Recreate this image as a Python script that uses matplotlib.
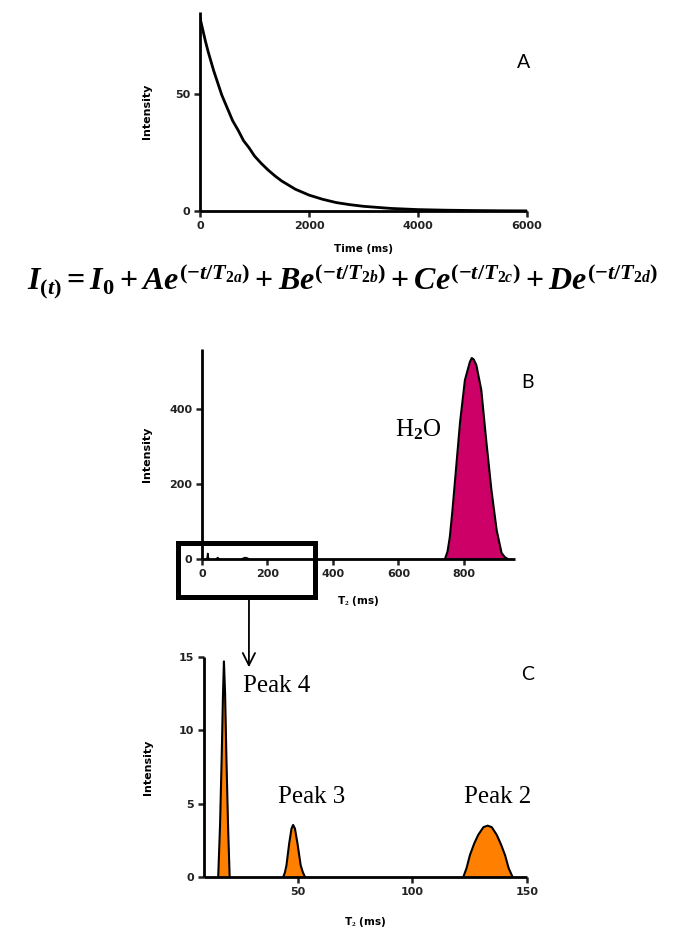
import matplotlib
matplotlib.use("Agg")
import matplotlib.pyplot as plt
from matplotlib.patches import Rectangle, ConnectionPatch
from matplotlib.font_manager import FontProperties

# decay curve
decay_t = [0, 50, 100, 150, 200, 250, 300, 350, 400, 500, 600, 700, 800, 900,
           1000, 1125, 1250, 1375, 1500, 1750, 2000, 2250, 2500, 2750, 3000,
           3500, 4000, 4500, 5000, 5500, 6000]
decay_i = [82.5, 77.5, 72.5, 68.0, 64.0, 60.0, 56.5, 53.0, 49.5, 44.0, 38.5,
           34.5, 30.0, 27.0, 23.5, 20.3, 17.5, 15.0, 12.8, 9.3, 6.8, 5.0, 3.6,
           2.7, 2.0, 1.1, 0.6, 0.35, 0.2, 0.1, 0.05]

# T2 distribution: water peak
h2o_t = [742, 750, 757, 765, 773, 788, 803, 818, 824, 830, 838, 853, 868, 884,
         900, 915, 925, 934]
h2o_i = [0, 20, 59, 130, 211, 363, 477, 525, 536, 532, 517, 451, 317, 184,
         77, 16, 5, 0]

# small peaks (ms, intensity)
p4_t = [15.2, 16.0, 16.7, 17.3, 17.7, 18.2, 18.8, 19.5, 20.2]
p4_i = [0, 3.5, 8.0, 12.5, 14.7, 12.5, 8.0, 3.5, 0]
p3_t = [43.6, 44.3, 45.0, 46.2, 47.2, 47.9, 48.7, 49.8, 51.2, 52.2, 53.1]
p3_i = [0, 0.3, 0.8, 2.3, 3.3, 3.55, 3.3, 2.3, 0.8, 0.3, 0]
p2_t = [122.2, 123.6, 125.1, 127.0, 128.7, 131.0, 132.8, 134.6, 136.8, 138.7,
        140.4, 142.0, 143.7]
p2_i = [0, 0.6, 1.5, 2.3, 2.87, 3.4, 3.5, 3.4, 2.87, 2.2, 1.5, 0.6, 0]

peak_labels = ["Peak 4", "Peak 3", "Peak 2"]

MAGENTA = "#CC0066"
ORANGE = "#FF8000"
TICKFONT = FontProperties(family="DejaVu Sans", weight="bold", size=8)

plt.rcParams["mathtext.fontset"] = "custom"
plt.rcParams["mathtext.rm"] = "Liberation Serif:bold"
plt.rcParams["mathtext.it"] = "Liberation Serif:italic:bold"
plt.rcParams["mathtext.bf"] = "Liberation Serif:bold"

W, H = 685, 932
fig = plt.figure(figsize=(W / 100, H / 100), dpi=100)


def px_axes(left, top, right, bottom):
    return fig.add_axes([left / W, 1 - bottom / H, (right - left) / W, (bottom - top) / H])


def prism_style(ax):
    for s in ("top", "right"):
        ax.spines[s].set_visible(False)
    for s in ("left", "bottom"):
        ax.spines[s].set_linewidth(2.0)
        ax.spines[s].set_capstyle("butt")
    ax.tick_params(direction="out", length=4, width=1.8, pad=3, colors="#222222")
    for lab in ax.get_xticklabels() + ax.get_yticklabels():
        lab.set_fontproperties(TICKFONT)
    ax.patch.set_visible(False)


def axis_labels(ax, xlabel, xl_y, yl_x):
    ax.text(0.5, xl_y, xlabel, transform=ax.transAxes, ha="center", va="center",
            fontfamily="DejaVu Sans", fontweight="bold", fontsize=7.5)
    ax.text(yl_x, 0.5, "Intensity", transform=ax.transAxes, ha="center", va="center",
            rotation=90, fontfamily="DejaVu Sans", fontweight="bold", fontsize=8)


# ---- A: relaxation decay
ax_a = px_axes(200, 12, 527, 211)
ax_a.plot(decay_t, decay_i, color="black", lw=2.0, solid_joinstyle="round")
ax_a.set_xlim(0, 6000)
ax_a.set_ylim(0, 85)
ax_a.set_xticks([0, 2000, 4000, 6000])
ax_a.set_yticks([0, 50])
prism_style(ax_a)
axis_labels(ax_a, "Time (ms)", -0.19, -0.162)
ax_a.text(5930, 63.5, "A", fontfamily="Lato", fontsize=14, ha="center", va="center")

# multi-exponential model
fig.text(343 / W, 1 - 281 / H,
         r"$I_{(t)} = I_0 + Ae^{(-t/T_{2a})} + Be^{(-t/T_{2b})} + Ce^{(-t/T_{2c})} + De^{(-t/T_{2d})}$",
         ha="center", va="center", fontsize=23)

# ---- B: full T2 distribution
ax_b = px_axes(202, 349, 515, 559)
for t, i in ((p4_t, p4_i), (p3_t, p3_i), (p2_t, p2_i)):
    ax_b.plot(t, i, color="black", lw=1.2)
ax_b.fill_between(h2o_t, h2o_i, color=MAGENTA, lw=0)
ax_b.plot(h2o_t, h2o_i, color="black", lw=1.5)
ax_b.set_xlim(0, 956)
ax_b.set_ylim(0, 560)
ax_b.set_xticks([0, 200, 400, 600, 800])
ax_b.set_yticks([0, 200, 400])
prism_style(ax_b)
axis_labels(ax_b, r"T$_2$ (ms)", -0.2, -0.176)
ax_b.text(660, 344, r"H$_2$O", fontfamily="Liberation Serif", fontsize=18,
          ha="center", va="center")
ax_b.text(995, 472, "B", fontfamily="Lato", fontsize=14, ha="center", va="center",
          clip_on=False)

# zoom box around the short-T2 region
ax_b.add_patch(Rectangle((-73, -101), 418, 144, fill=False, lw=3.6,
                         edgecolor="black", clip_on=False, zorder=5))

# ---- C: short-T2 peaks
ax_c = px_axes(204, 657, 527, 877)
for t, i in ((p4_t, p4_i), (p3_t, p3_i), (p2_t, p2_i)):
    ax_c.fill_between(t, i, color=ORANGE, lw=0)
    ax_c.plot(t, i, color="black", lw=1.5)
ax_c.set_xlim(9, 150)
ax_c.set_ylim(0, 15)
ax_c.set_xticks([50, 100, 150])
ax_c.set_yticks([0, 5, 10, 15])
prism_style(ax_c)
axis_labels(ax_c, r"T$_2$ (ms)", -0.205, -0.173)

label_pos = [(40.8, 12.6), (56.1, 5.05), (137.3, 5.05)]
for txt, (x, y) in zip(peak_labels, label_pos):
    ax_c.text(x, y, txt, fontfamily="Liberation Serif", fontsize=18,
              ha="center", va="baseline")
ax_c.text(150.4, 13.8, "C", fontfamily="Lato", fontsize=14, ha="center", va="center",
          clip_on=False)

# arrow from the zoom box down to panel C
arrow = ConnectionPatch(xyA=(143.5, -101), coordsA=ax_b.transData,
                        xyB=(28.6, 14.3), coordsB=ax_c.transData,
                        arrowstyle="->", mutation_scale=22, lw=1.3, color="black")
fig.add_artist(arrow)

fig.savefig("out.png", dpi=100)
